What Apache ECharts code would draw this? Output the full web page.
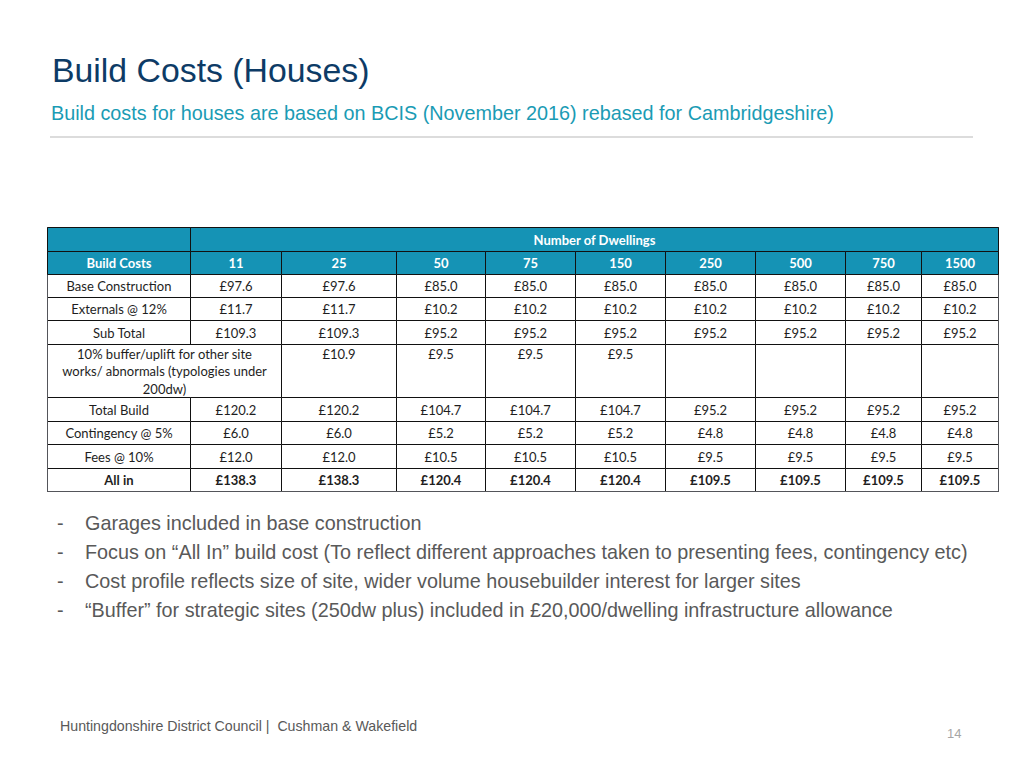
<!DOCTYPE html>
<html>
<head>
<meta charset="utf-8">
<script src="https://cdn.jsdelivr.net/npm/echarts@6.0.0/dist/echarts.min.js"></script>
<style>html,body{margin:0;padding:0;background:#fff}#main{width:1024px;height:768px}</style>
</head>
<body>
<div id="main"></div>
<script>
// ---- data ----
const titleText = 'Build Costs (Houses)';
const subtitleText = 'Build costs for houses are based on BCIS (November 2016) rebased for Cambridgeshire)';
const headerGroup = 'Number of Dwellings';
const cornerLabel = 'Build Costs';
const dwellings = ['11', '25', '50', '75', '150', '250', '500', '750', '1500'];
const rowLabels = [
  'Base Construction',
  'Externals @ 12%',
  'Sub Total',
  '10% buffer/uplift for other site\nworks/ abnormals (typologies under\n200dw)',
  'Total Build',
  'Contingency @ 5%',
  'Fees @ 10%',
  'All in'
];
const baseConstruction = [97.6, 97.6, 85.0, 85.0, 85.0, 85.0, 85.0, 85.0, 85.0];
const externals = [11.7, 11.7, 10.2, 10.2, 10.2, 10.2, 10.2, 10.2, 10.2];
const subTotal = [109.3, 109.3, 95.2, 95.2, 95.2, 95.2, 95.2, 95.2, 95.2];
const bufferUplift = [null, 10.9, 9.5, 9.5, 9.5, null, null, null, null];
const totalBuild = [120.2, 120.2, 104.7, 104.7, 104.7, 95.2, 95.2, 95.2, 95.2];
const contingency = [6.0, 6.0, 5.2, 5.2, 5.2, 4.8, 4.8, 4.8, 4.8];
const fees = [12.0, 12.0, 10.5, 10.5, 10.5, 9.5, 9.5, 9.5, 9.5];
const allIn = [138.3, 138.3, 120.4, 120.4, 120.4, 109.5, 109.5, 109.5, 109.5];
const bullets = [
  'Garages included in base construction',
  'Focus on \u201cAll In\u201d build cost (To reflect different approaches taken to presenting fees, contingency etc)',
  'Cost profile reflects size of site, wider volume housebuilder interest for larger sites',
  '\u201cBuffer\u201d for strategic sites (250dw plus) included in \u00a320,000/dwelling infrastructure allowance'
];
const footerText = 'Huntingdonshire District Council |  Cushman & Wakefield';
const pageNumber = '14';

// ---- build table ----
const rowsValues = [baseConstruction, externals, subTotal, bufferUplift, totalBuild, contingency, fees, allIn];
const colSizes = [143, 91, 115, 89, 90, 90, 90, 90, 76, 77];
const rowSizes = [24, 23, 23, 23, 24, 53, 24, 23, 24, 23];
const TEAL = '#1593b5';
const TXT = '#1e1e1e';
const FONT = 'Lato';
const fmt = v => (v == null ? '' : '\u00a3' + v.toFixed(1));

const cells = [];
const headStyle = { color: TEAL };
const headLabel = { color: '#fff', fontWeight: 'bold', fontFamily: FONT, fontSize: 13, overflow: 'none', padding: [0, 0, 4, 0] };
cells.push({ coord: [0, 0], value: '', itemStyle: headStyle });
cells.push({ coord: [[1, 9], 0], mergeCells: true, value: headerGroup, itemStyle: headStyle, label: headLabel });
cells.push({ coord: [0, 1], value: cornerLabel, itemStyle: headStyle, label: headLabel });
dwellings.forEach((d, i) => cells.push({ coord: [i + 1, 1], value: d, itemStyle: headStyle, label: headLabel }));
rowLabels.forEach((lab, r) => {
  const y = r + 2;
  const bold = r === rowLabels.length - 1;
  const lbl = { color: TXT, fontFamily: FONT, fontSize: 13, fontWeight: bold ? 'bold' : 'normal', overflow: 'none', padding: [0, 0, 4, 0] };
  if (r === 3) {
    cells.push({ coord: [[0, 1], y], mergeCells: true, value: lab, label: Object.assign({}, lbl, { lineHeight: 17.5, padding: 0 }) });
    rowsValues[r].forEach((v, i) => {
      if (i === 0) return;
      cells.push({
        coord: [i + 1, y],
        value: v == null ? '' : fmt(v) + '\n\n\u00a0',
        label: Object.assign({}, lbl, { lineHeight: 17, padding: 0 })
      });
    });
  } else {
    cells.push({ coord: [0, y], value: lab, label: lbl });
    rowsValues[r].forEach((v, i) => cells.push({ coord: [i + 1, y], value: fmt(v), label: lbl }));
  }
});

const SANS = 'Liberation Sans';
const chart = echarts.init(document.getElementById('main'), null, { renderer: 'svg' });
chart.setOption({
  backgroundColor: '#fff',
  title: [
    { text: titleText, left: 52, top: 51, padding: 0, textStyle: { fontFamily: SANS, fontSize: 33.8, fontWeight: 'normal', color: '#0d3b66', lineHeight: 38 } },
    { text: subtitleText, left: 51, top: 102, padding: 0, textStyle: { fontFamily: SANS, fontSize: 19.8, fontWeight: 'normal', color: '#1a9bb4', lineHeight: 22 } },
    { text: footerText, left: 60, top: 718, padding: 0, textStyle: { fontFamily: SANS, fontSize: 14.2, fontWeight: 'normal', color: '#595959', lineHeight: 16 } },
    { text: pageNumber, left: 947, top: 726, padding: 0, textStyle: { fontFamily: SANS, fontSize: 13, fontWeight: 'normal', color: '#a6a6a6', lineHeight: 14 } }
  ].concat(bullets.map((b, i) => ({
    text: '-', left: 57, top: 512 + i * 29, padding: 0,
    textStyle: { fontFamily: SANS, fontSize: 19.8, fontWeight: 'normal', color: '#595959', lineHeight: 22 }
  }))).concat(bullets.map((b, i) => ({
    text: b, left: 85, top: 512 + i * 29, padding: 0,
    textStyle: { fontFamily: SANS, fontSize: 19.8, fontWeight: 'normal', color: '#595959', lineHeight: 22 }
  }))),
  graphic: [
    { type: 'line', shape: { x1: 50, y1: 137, x2: 973, y2: 137 }, style: { stroke: '#dcdcdc', lineWidth: 2 } }
  ],
  matrix: {
    left: 47, top: 227, width: 951, height: 264,
    x: { show: false, data: colSizes.map((s, i) => ({ value: 'c' + i, size: s })) },
    y: { show: false, data: rowSizes.map((s, i) => ({ value: 'r' + i, size: s })) },
    body: {
      data: cells,
      itemStyle: { color: '#fff', borderColor: '#111', borderWidth: 1 },
      label: { color: TXT, fontFamily: FONT, fontSize: 13 }
    },
    backgroundColor: '#fff'
  }
});
</script>
</body>
</html>
